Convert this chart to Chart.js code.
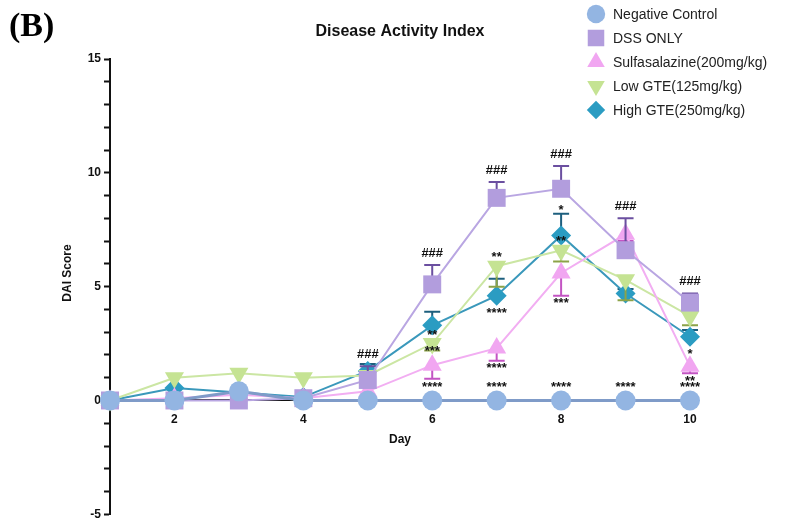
<!DOCTYPE html>
<html>
<head>
<meta charset="utf-8">
<script src="https://cdn.jsdelivr.net/npm/chart.js@4/dist/chart.umd.min.js"></script>
<style>
  html, body { margin: 0; padding: 0; background: #ffffff; }
  canvas { display: block; }
</style>
</head>
<body>
<canvas id="dai" width="785" height="527"></canvas>
<script>
// ---- data: DAI score per day (mean) and SEM ----
const days = [1, 2, 3, 4, 5, 6, 7, 8, 9, 10];
const dayTicks = [2, 4, 6, 8, 10];
const seriesNames = ['Negative Control', 'DSS ONLY', 'Sulfasalazine(200mg/kg)', 'Low GTE(125mg/kg)', 'High GTE(250mg/kg)'];

const negativeControl = [0, 0, 0.4, 0, 0, 0, 0, 0, 0, 0];
const dssOnly         = [0, 0, 0, 0.1, 0.9, 5.1, 8.9, 9.3, 6.6, 4.3];
const sulfasalazine   = [0, 0.1, 0.25, 0.1, 0.4, 1.55, 2.3, 5.6, 7.3, 1.5];
const lowGte          = [0, 1.0, 1.2, 1.0, 1.1, 2.5, 5.9, 6.6, 5.3, 3.7];
const highGte         = [0, 0.55, 0.35, 0.15, 1.3, 3.3, 4.6, 7.25, 4.7, 2.8];

const negativeErr = [0, 0, 0, 0, 0, 0, 0, 0, 0, 0];
const dssErr      = [0, 0, 0, 0, 0.6, 0.85, 0.7, 1.0, 1.4, 0.4];
const sulfaErr    = [0, 0, 0, 0, 0, 0.6, 0.55, 1.0, 0.3, 0.3];
const lowGteErr   = [0, 0, 0, 0, 0, 0.3, 0.9, 0.5, 0.9, 0.4];
const highGteErr  = [0, 0, 0, 0, 0.3, 0.6, 0.75, 0.95, 0.2, 0.3];

const yMin = -5, yMax = 15, yLabelEvery = 5;

// significance marks: [series index, day, text, side]
const sigMarks = [
  [1, 5, '###', 'above'], [1, 6, '###', 'above'], [1, 7, '###', 'above'],
  [1, 8, '###', 'above'], [1, 9, '###', 'above'], [1, 10, '###', 'above'],
  [0, 6, '****', 'above'], [0, 7, '****', 'above'], [0, 8, '****', 'above'],
  [0, 9, '****', 'above'], [0, 10, '****', 'above'],
  [4, 7, '****', 'below'], [4, 8, '*', 'above'], [4, 10, '*', 'below'],
  [3, 6, '**', 'above'], [3, 7, '**', 'above'], [3, 8, '**', 'above'],
  [2, 6, '***', 'above'], [2, 7, '****', 'below'], [2, 8, '***', 'below'], [2, 10, '**', 'below']
];

// ---- styling per series ----
const styles = [
  { line: '#7f9bc8', fill: '#93b5e2', err: '#5a78a8', shape: 'circle',   rot: 0,   r: 10,   width: 3, dir: 1 },
  { line: '#b9a6e2', fill: '#b29ddd', err: '#6b4fa0', shape: 'rect',     rot: 0,   r: 12.7, width: 2, dir: 1 },
  { line: '#f2aef2', fill: '#f1a6f1', err: '#c354c3', shape: 'triangle', rot: 0,   r: 11,   width: 2, dir: -1 },
  { line: '#cbe6a3', fill: '#c5e393', err: '#8ca348', shape: 'triangle', rot: 180, r: 11,   width: 2, dir: -1 },
  { line: '#3a98bb', fill: '#2b9cc2', err: '#1d5f7e', shape: 'rectRot',  rot: 0,   r: 10,   width: 2, dir: 1 }
];
const seriesValues = [negativeControl, dssOnly, sulfasalazine, lowGte, highGte];
const seriesErrors = [negativeErr, dssErr, sulfaErr, lowGteErr, highGteErr];

const FONT = '"Liberation Sans", Arial, Helvetica, sans-serif';
Chart.defaults.font.family = FONT;
Chart.defaults.color = '#111';

const datasets = seriesNames.map((name, i) => ({
  label: name,
  data: days.map((d, j) => ({ x: d, y: seriesValues[i][j] })),
  borderColor: styles[i].line,
  borderWidth: styles[i].width,
  backgroundColor: styles[i].fill,
  pointBackgroundColor: styles[i].fill,
  pointBorderColor: styles[i].fill,
  pointBorderWidth: 0,
  pointStyle: styles[i].shape,
  pointRotation: styles[i].rot,
  pointRadius: styles[i].r,
  pointHoverRadius: styles[i].r,
  tension: 0,
  clip: false
}));

// vertical extent of a marker above / below its centre
function markerExtent(s, side) {
  if (s.shape === 'rect') return s.r * Math.SQRT1_2;
  if (s.shape === 'triangle') {
    const up = s.rot === 0;
    if (side === 'above') return up ? s.r : s.r / 2;
    return up ? s.r / 2 : s.r;
  }
  return s.r;
}

// SEM bars drawn just before each series so its markers sit on top
const errorBars = {
  id: 'errorBars',
  beforeDatasetDraw(chart, args) {
    const i = args.index;
    const errs = seriesErrors[i];
    const s = styles[i];
    const yScale = chart.scales.y;
    const meta = chart.getDatasetMeta(i);
    const ctx = chart.ctx;
    ctx.save();
    ctx.strokeStyle = s.err;
    ctx.lineWidth = 2;
    meta.data.forEach((pt, j) => {
      const e = errs[j];
      if (!e) return;
      const v = seriesValues[i][j];
      const y0 = yScale.getPixelForValue(v);
      const y1 = yScale.getPixelForValue(v + s.dir * e);
      ctx.beginPath();
      ctx.moveTo(pt.x, y0);
      ctx.lineTo(pt.x, y1);
      ctx.moveTo(pt.x - 8, y1);
      ctx.lineTo(pt.x + 8, y1);
      ctx.stroke();
    });
    ctx.restore();
  }
};

// significance marks placed relative to each point and its SEM bar
const significance = {
  id: 'significance',
  afterDatasetsDraw(chart) {
    const ctx = chart.ctx;
    const yScale = chart.scales.y;
    const xScale = chart.scales.x;
    ctx.save();
    ctx.fillStyle = '#111';
    ctx.textAlign = 'center';
    ctx.textBaseline = 'middle';
    sigMarks.forEach(([si, day, text, side]) => {
      const j = days.indexOf(day);
      const s = styles[si];
      const v = seriesValues[si][j];
      const e = seriesErrors[si][j];
      const x = xScale.getPixelForValue(day);
      const yc = yScale.getPixelForValue(v);
      const isHash = text.indexOf('#') >= 0;
      let y;
      if (side === 'above') {
        let top = yc - markerExtent(s, 'above');
        if (e && s.dir > 0) top = Math.min(top, yScale.getPixelForValue(v + e));
        y = top - (isHash ? 12 : 6);
      } else {
        let bottom = yc + markerExtent(s, 'below');
        if (e && s.dir < 0) bottom = Math.max(bottom, yScale.getPixelForValue(v - e));
        y = bottom + 5;
      }
      ctx.font = 'bold 13px ' + FONT;
      ctx.fillText(text, x, isHash ? y : y + 3);
    });
    ctx.restore();
  }
};

// panel letter, y-axis title and legend
const decorations = {
  id: 'decorations',
  afterDraw(chart) {
    const ctx = chart.ctx;
    ctx.save();
    ctx.fillStyle = '#000';
    ctx.font = 'bold 34px "Liberation Serif", "Times New Roman", serif';
    ctx.textAlign = 'left';
    ctx.textBaseline = 'alphabetic';
    ctx.fillText('(B)', 9, 36);

    ctx.save();
    ctx.translate(68, 273);
    ctx.rotate(-Math.PI / 2);
    ctx.fillStyle = '#111';
    ctx.font = 'bold 12px ' + FONT;
    ctx.textAlign = 'center';
    ctx.textBaseline = 'middle';
    ctx.fillText('DAI Score', 0, 0);
    ctx.restore();

    chart.data.datasets.forEach((ds, i) => {
      const s = styles[i];
      const y = 14 + i * 24;
      ctx.fillStyle = s.fill;
      ctx.strokeStyle = s.fill;
      Chart.helpers.drawPoint(ctx, { pointStyle: s.shape, rotation: s.rot, radius: s.r * 0.92, borderWidth: 0 }, 596, y);
      ctx.fillStyle = '#222';
      ctx.font = '14px ' + FONT;
      ctx.textAlign = 'left';
      ctx.textBaseline = 'middle';
      ctx.fillText(ds.label, 613, y + 1);
    });
    ctx.restore();
  }
};

new Chart(document.getElementById('dai'), {
  type: 'line',
  data: { datasets },
  plugins: [errorBars, significance, decorations],
  options: {
    responsive: false,
    animation: false,
    events: [],
    layout: { padding: { left: 0, right: 95, top: 0, bottom: 12 } },
    plugins: {
      legend: { display: false },
      tooltip: { enabled: false },
      title: {
        display: true,
        text: 'Disease Activity Index',
        fullSize: false,
        color: '#111',
        font: { size: 16, weight: 'bold' },
        padding: { top: 22.4, bottom: 17.4 }
      }
    },
    scales: {
      x: {
        type: 'linear',
        min: 1,
        max: 10,
        position: { y: 0 },
        afterBuildTicks: (scale) => { scale.ticks = dayTicks.map(v => ({ value: v })); },
        afterFit: (scale) => { scale.height = 46; },
        grid: { drawOnChartArea: false, drawTicks: true, tickLength: 5, tickWidth: 2, tickColor: '#111' },
        border: { display: true, color: '#111', width: 2 },
        ticks: { font: { size: 12, weight: 'bold' }, color: '#111', padding: 7, maxRotation: 0 },
        title: { display: true, text: 'Day', color: '#111', font: { size: 12, weight: 'bold' }, padding: { top: 0, bottom: 0 } }
      },
      y: {
        type: 'linear',
        min: yMin,
        max: yMax,
        position: 'left',
        afterFit: (scale) => { scale.width = 110; },
        grid: { drawOnChartArea: false, drawTicks: true, tickLength: 6, tickWidth: 2, tickColor: '#111' },
        border: { display: true, color: '#111', width: 2 },
        ticks: {
          stepSize: 1,
          autoSkip: false,
          padding: 3,
          color: '#111',
          font: { size: 12, weight: 'bold' },
          callback: (v) => (v % yLabelEvery === 0 ? String(v) : '')
        },
        title: { display: false }
      }
    }
  }
});
</script>
</body>
</html>
